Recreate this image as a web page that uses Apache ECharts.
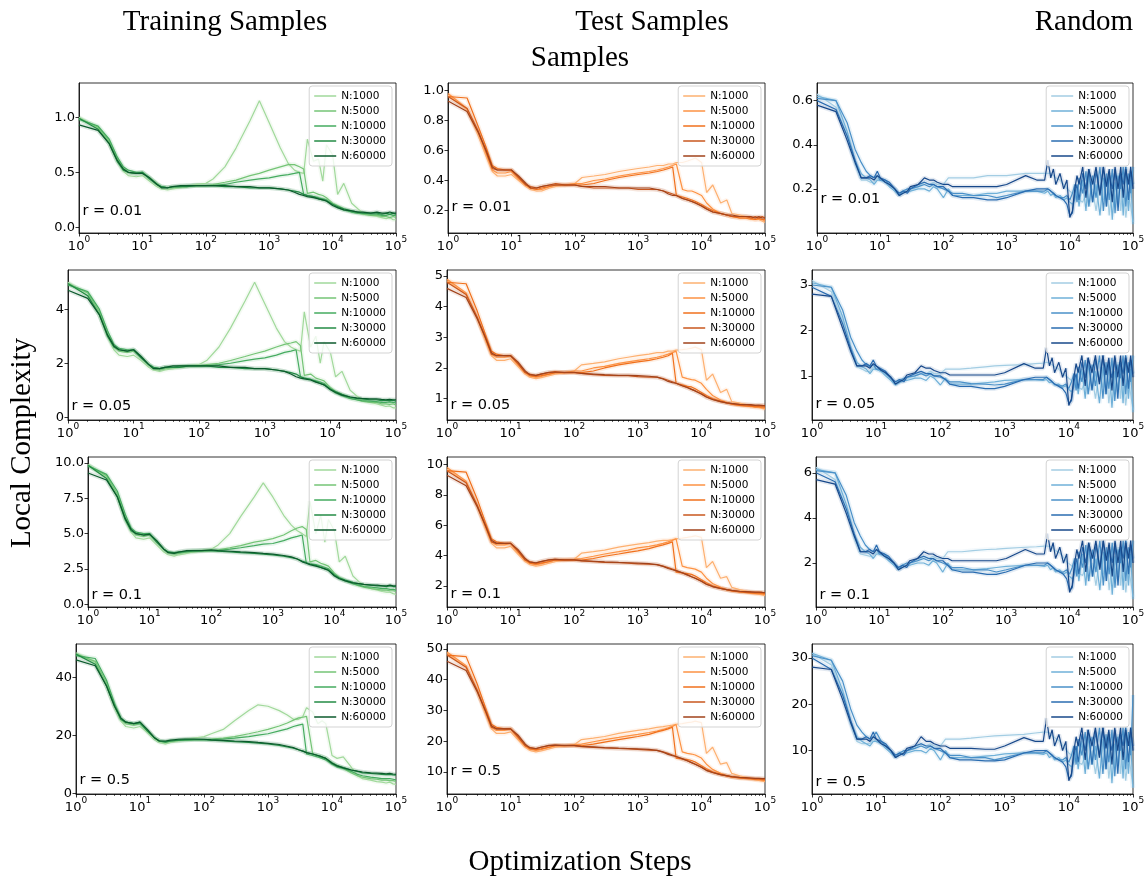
<!DOCTYPE html>
<html>
<head>
<meta charset="utf-8">
<script src="https://cdn.jsdelivr.net/npm/echarts@6/dist/echarts.min.js"></script>
<style>
  html, body { margin: 0; padding: 0; background: #fff; }
  #chart { width: 1148px; height: 882px; }
</style>
</head>
<body>
<div id="chart"></div>
<script>
// optimisation steps at which the train / test runs were logged
const steps = [1, 2, 3, 4, 5, 6, 8, 10, 13, 17, 20, 25, 30, 40, 50, 70, 100, 130, 200, 300, 500, 700,
  1000, 1500, 2000, 2500, 3000, 3500, 4000, 5000, 6000, 7000, 8000, 10000, 12000, 15000, 20000, 25000,
  30000, 40000, 50000, 60000, 70000, 80000, 90000, 100000];
// the random-sample runs are logged on a denser grid at the end
const stepsRandom = [1, 2, 3, 4, 5, 6, 7, 8, 9, 10, 12, 14, 17, 20, 23, 27, 30, 40, 50, 60, 70, 80, 100, 120,
  140, 200, 300, 500, 700, 1000, 2000, 3000, 4000, 4500, 5000, 5500, 6000, 7000, 8000, 9000, 10000, 11000,
  12000, 13000, 14000, 16000, 18000, 20000, 23000, 26000, 30000, 34000, 38000, 42000, 47000, 52000, 58000,
  64000, 70000, 77000, 85000, 92000, 100000];

const sizes = ['N:1000', 'N:5000', 'N:10000', 'N:30000', 'N:60000'];
const radii = ['r = 0.01', 'r = 0.05', 'r = 0.1', 'r = 0.5'];

const xTicks = [1, 10, 100, 1000, 10000, 100000];
const yTicksTrain = [[0, 0.5, 1.0], [0, 2, 4], [0, 2.5, 5, 7.5, 10], [0, 20, 40]];
const yTicksTest = [[0.2, 0.4, 0.6, 0.8, 1.0], [1, 2, 3, 4, 5], [2, 4, 6, 8, 10], [10, 20, 30, 40, 50]];
const yTicksRandom = [[0.2, 0.4, 0.6], [1, 2, 3], [2, 4, 6], [10, 20, 30]];

// ---- Training samples (N:1000 ... N:60000)
const train001 = [
  [1.00,0.90,0.77,0.60,0.51,0.47,0.46,0.47,0.42,0.37,0.35,0.34,0.35,0.36,0.37,0.39,0.40,0.44,0.55,0.72,0.97,1.15,0.95,0.72,0.58,0.52,0.50,0.49,0.80,0.60,0.62,0.42,0.75,0.66,0.30,0.40,0.22,0.17,0.13,0.11,0.10,0.09,0.08,0.09,0.07,0.07],
  [0.99,0.91,0.78,0.63,0.54,0.50,0.49,0.50,0.45,0.40,0.37,0.36,0.36,0.37,0.37,0.38,0.38,0.39,0.41,0.43,0.47,0.49,0.52,0.55,0.57,0.57,0.55,0.53,0.31,0.32,0.30,0.29,0.27,0.22,0.20,0.17,0.14,0.13,0.12,0.11,0.11,0.10,0.10,0.09,0.10,0.09],
  [0.98,0.92,0.80,0.64,0.55,0.52,0.50,0.50,0.45,0.39,0.37,0.36,0.37,0.37,0.38,0.38,0.38,0.38,0.39,0.41,0.43,0.44,0.45,0.47,0.48,0.49,0.50,0.30,0.29,0.28,0.27,0.26,0.25,0.21,0.18,0.16,0.14,0.13,0.13,0.12,0.12,0.11,0.11,0.12,0.11,0.11],
  [0.99,0.89,0.76,0.60,0.52,0.50,0.49,0.50,0.44,0.39,0.37,0.36,0.37,0.37,0.37,0.38,0.38,0.38,0.37,0.37,0.36,0.36,0.36,0.35,0.34,0.33,0.32,0.30,0.29,0.28,0.26,0.25,0.24,0.21,0.19,0.17,0.15,0.14,0.13,0.13,0.13,0.12,0.13,0.12,0.13,0.12],
  [0.93,0.88,0.76,0.61,0.53,0.50,0.49,0.49,0.45,0.39,0.36,0.36,0.37,0.38,0.38,0.38,0.38,0.38,0.38,0.37,0.37,0.36,0.36,0.35,0.34,0.32,0.30,0.29,0.28,0.27,0.26,0.25,0.24,0.20,0.18,0.16,0.15,0.14,0.14,0.13,0.14,0.13,0.13,0.14,0.13,0.13]
];
const train005 = [
  [5.0,4.5,3.8,3.0,2.5,2.3,2.25,2.3,2.1,1.85,1.75,1.7,1.75,1.8,1.85,1.9,1.95,2.1,2.6,3.3,4.3,5.0,4.2,3.3,2.8,2.6,2.5,2.45,3.9,2.6,3.0,2.0,2.8,2.4,1.5,1.7,1.0,0.8,0.65,0.55,0.5,0.45,0.4,0.42,0.35,0.35],
  [4.95,4.6,3.9,3.1,2.6,2.45,2.4,2.45,2.2,1.95,1.8,1.75,1.8,1.85,1.85,1.9,1.9,1.95,2.0,2.1,2.25,2.35,2.45,2.6,2.7,2.75,2.8,2.65,1.55,1.6,1.45,1.4,1.35,1.1,0.95,0.85,0.7,0.65,0.6,0.55,0.55,0.5,0.5,0.48,0.5,0.45],
  [4.9,4.65,4.0,3.2,2.7,2.55,2.5,2.5,2.25,1.95,1.85,1.8,1.85,1.85,1.9,1.9,1.9,1.9,1.95,2.0,2.1,2.15,2.2,2.3,2.4,2.45,2.5,1.5,1.45,1.4,1.35,1.3,1.25,1.05,0.9,0.8,0.7,0.65,0.62,0.6,0.58,0.55,0.55,0.57,0.55,0.53],
  [4.95,4.5,3.8,3.0,2.6,2.5,2.45,2.5,2.2,1.95,1.85,1.8,1.85,1.85,1.85,1.9,1.9,1.9,1.85,1.85,1.8,1.8,1.8,1.75,1.7,1.65,1.6,1.5,1.45,1.4,1.32,1.25,1.2,1.05,0.95,0.85,0.75,0.7,0.68,0.65,0.65,0.62,0.63,0.62,0.63,0.6],
  [4.7,4.4,3.8,3.05,2.65,2.5,2.45,2.5,2.25,1.95,1.8,1.8,1.85,1.9,1.9,1.9,1.9,1.9,1.9,1.85,1.85,1.8,1.8,1.75,1.7,1.6,1.5,1.45,1.42,1.38,1.3,1.25,1.2,1.02,0.92,0.82,0.75,0.72,0.7,0.68,0.68,0.66,0.65,0.66,0.65,0.65]
];
const train01 = [
  [9.9,9.0,7.6,6.0,5.1,4.7,4.6,4.7,4.2,3.7,3.5,3.4,3.5,3.6,3.7,3.8,3.9,4.2,5.0,6.2,7.6,8.6,7.6,6.3,5.6,5.2,5.0,4.8,7.3,5.0,6.3,4.4,6.0,5.2,3.0,3.4,2.0,1.6,1.3,1.1,1.0,0.9,0.85,0.85,0.75,0.7],
  [9.85,9.1,7.8,6.2,5.3,4.9,4.8,4.9,4.4,3.9,3.65,3.55,3.6,3.7,3.7,3.75,3.8,3.85,4.0,4.15,4.4,4.5,4.65,4.9,5.2,5.4,5.5,5.3,3.0,3.1,2.9,2.8,2.7,2.2,1.9,1.7,1.45,1.3,1.2,1.1,1.05,1.0,1.0,0.95,0.95,0.9],
  [9.8,9.2,8.0,6.4,5.4,5.1,5.0,5.0,4.5,3.9,3.7,3.6,3.65,3.7,3.75,3.8,3.8,3.8,3.9,4.0,4.15,4.25,4.3,4.5,4.7,4.8,4.9,2.9,2.85,2.8,2.7,2.6,2.5,2.1,1.85,1.65,1.45,1.35,1.25,1.2,1.15,1.1,1.1,1.05,1.05,1.0],
  [9.85,8.9,7.6,6.0,5.2,5.0,4.9,5.0,4.4,3.9,3.7,3.65,3.7,3.75,3.8,3.8,3.8,3.75,3.7,3.65,3.6,3.55,3.5,3.4,3.3,3.2,3.05,2.95,2.85,2.75,2.6,2.5,2.4,2.05,1.85,1.7,1.55,1.45,1.4,1.35,1.3,1.3,1.25,1.3,1.25,1.25],
  [9.3,8.8,7.6,6.1,5.3,5.0,4.9,4.95,4.5,3.9,3.65,3.6,3.7,3.8,3.8,3.8,3.85,3.8,3.75,3.7,3.65,3.6,3.55,3.45,3.35,3.2,3.0,2.9,2.8,2.7,2.6,2.5,2.4,2.0,1.8,1.65,1.5,1.45,1.4,1.35,1.35,1.3,1.3,1.35,1.3,1.3]
];
const train05 = [
  [48.5,45,37,29.5,25,23,22.5,23,21,18.5,17.5,17,17.5,18,18.5,19,19.5,20.5,22,25,28.5,30.5,30,28.5,27,25.5,25.5,26.5,29.5,28,24,25,24,13,12,12.5,9,6,5,4.5,4,3.8,3.5,3.8,3.2,3],
  [48,45.5,38,30.5,25.5,24,23.5,24,21.5,19,18,17.5,18,18.2,18.3,18.5,18.5,18.7,19,19.5,20.5,21.2,22,23.2,24.2,25.2,26,26.2,26.5,13.5,13,12.5,12,10.5,9.5,8.5,7,6,5.5,5,4.8,4.5,4.5,4.3,4.3,4],
  [47.5,46.5,39,31,26,24.5,24,24,21.5,19,18,17.5,18,18.2,18.3,18.5,18.5,18.5,18.7,19,19.5,20,20.5,21.5,22.2,23,23.5,23.8,13.5,13,12.5,12,11.5,10,9,8.5,7.5,6.5,6,5.5,5.3,5,5,5,4.8,4.6],
  [48,44.5,37,30,25.5,24.5,24,24.5,21.5,19,18,17.8,18,18.3,18.5,18.5,18.5,18.3,18,17.8,17.5,17.3,17,16.5,16,15.5,15,14.5,14,13.5,13,12.5,12,10.5,9.5,8.8,8,7.5,7,6.8,6.6,6.5,6.4,6.5,6.3,6.2],
  [46,44,37,30,26,24.5,24,24.5,22,19,18,18,18.3,18.6,18.7,18.7,18.6,18.4,18.2,18,17.8,17.5,17.2,16.8,16.2,15.7,15,14.5,14,13.5,13,12.5,12,10.3,9.4,8.7,8,7.6,7.3,7,6.9,6.8,6.7,6.8,6.6,6.5]
];

// ---- Test samples
const test001 = [
  [0.97,0.87,0.70,0.56,0.46,0.43,0.43,0.44,0.40,0.36,0.34,0.33,0.33,0.35,0.36,0.37,0.38,0.42,0.43,0.44,0.46,0.47,0.48,0.49,0.50,0.50,0.51,0.51,0.52,0.52,0.53,0.54,0.55,0.52,0.32,0.37,0.25,0.27,0.18,0.17,0.16,0.15,0.14,0.14,0.13,0.12],
  [0.98,0.88,0.72,0.58,0.47,0.45,0.45,0.46,0.41,0.37,0.35,0.34,0.34,0.36,0.37,0.37,0.38,0.38,0.40,0.41,0.43,0.44,0.45,0.46,0.47,0.48,0.49,0.50,0.51,0.34,0.33,0.33,0.32,0.30,0.25,0.21,0.18,0.17,0.16,0.15,0.15,0.14,0.14,0.14,0.14,0.13],
  [0.96,0.95,0.76,0.62,0.50,0.48,0.47,0.47,0.42,0.37,0.35,0.34,0.35,0.36,0.37,0.37,0.37,0.37,0.38,0.40,0.42,0.43,0.44,0.45,0.46,0.47,0.48,0.49,0.30,0.29,0.28,0.27,0.26,0.24,0.22,0.20,0.18,0.17,0.16,0.15,0.15,0.15,0.14,0.15,0.14,0.14],
  [0.96,0.88,0.73,0.59,0.48,0.47,0.47,0.47,0.42,0.37,0.36,0.35,0.36,0.37,0.38,0.37,0.37,0.36,0.35,0.35,0.35,0.35,0.34,0.34,0.34,0.33,0.32,0.31,0.30,0.28,0.27,0.26,0.25,0.23,0.21,0.19,0.18,0.17,0.16,0.16,0.16,0.15,0.16,0.15,0.16,0.15],
  [0.93,0.86,0.72,0.60,0.49,0.47,0.47,0.47,0.43,0.38,0.35,0.35,0.36,0.37,0.37,0.37,0.37,0.36,0.36,0.36,0.35,0.35,0.35,0.35,0.34,0.33,0.31,0.30,0.30,0.28,0.27,0.26,0.25,0.23,0.21,0.19,0.18,0.17,0.17,0.16,0.16,0.16,0.15,0.16,0.15,0.15]
];
const test005 = [
  [4.85,4.4,3.6,2.9,2.4,2.25,2.25,2.3,2.05,1.8,1.7,1.65,1.68,1.75,1.8,1.85,1.9,2.1,2.15,2.2,2.3,2.35,2.4,2.45,2.5,2.5,2.55,2.55,2.58,2.6,2.62,2.65,2.68,2.6,1.6,1.8,1.2,1.3,0.9,0.85,0.8,0.75,0.72,0.7,0.68,0.65],
  [4.9,4.45,3.65,2.95,2.45,2.35,2.35,2.4,2.1,1.85,1.75,1.7,1.72,1.8,1.85,1.85,1.9,1.9,2.0,2.05,2.15,2.2,2.25,2.3,2.35,2.4,2.45,2.5,2.55,1.7,1.65,1.62,1.6,1.5,1.3,1.1,0.95,0.88,0.82,0.78,0.76,0.74,0.72,0.72,0.7,0.68],
  [4.8,4.75,3.85,3.1,2.55,2.45,2.4,2.4,2.15,1.85,1.75,1.72,1.75,1.8,1.85,1.85,1.85,1.85,1.9,2.0,2.1,2.15,2.2,2.25,2.3,2.35,2.4,2.48,1.5,1.45,1.4,1.38,1.32,1.2,1.1,1.0,0.92,0.86,0.82,0.78,0.76,0.75,0.74,0.74,0.73,0.72],
  [4.8,4.4,3.65,3.0,2.45,2.4,2.4,2.4,2.15,1.85,1.8,1.75,1.8,1.85,1.88,1.85,1.85,1.82,1.78,1.76,1.75,1.75,1.72,1.7,1.7,1.65,1.6,1.55,1.5,1.42,1.36,1.3,1.25,1.15,1.05,0.97,0.9,0.86,0.83,0.8,0.8,0.78,0.78,0.77,0.78,0.76],
  [4.6,4.3,3.6,3.0,2.5,2.4,2.4,2.4,2.2,1.9,1.78,1.76,1.8,1.86,1.86,1.86,1.86,1.82,1.8,1.78,1.76,1.76,1.75,1.73,1.7,1.64,1.56,1.52,1.5,1.42,1.36,1.3,1.25,1.15,1.05,0.97,0.9,0.86,0.84,0.81,0.8,0.8,0.78,0.79,0.77,0.77]
];
const test01 = [
  [9.7,8.8,7.2,5.8,4.8,4.5,4.5,4.6,4.1,3.6,3.4,3.3,3.35,3.5,3.6,3.7,3.75,4.15,4.25,4.35,4.55,4.65,4.75,4.85,4.95,5.0,5.0,5.05,5.1,5.15,5.2,5.25,5.3,5.2,3.2,3.6,2.5,2.6,1.9,1.75,1.65,1.55,1.5,1.45,1.4,1.35],
  [9.8,8.9,7.3,5.9,4.9,4.7,4.7,4.8,4.2,3.7,3.5,3.4,3.45,3.6,3.7,3.7,3.75,3.8,3.95,4.1,4.25,4.35,4.5,4.6,4.7,4.8,4.9,5.0,5.1,3.3,3.2,3.15,3.1,2.9,2.5,2.15,1.9,1.75,1.65,1.6,1.55,1.5,1.48,1.47,1.45,1.42],
  [9.6,9.5,7.7,6.2,5.1,4.9,4.8,4.8,4.3,3.7,3.5,3.45,3.5,3.6,3.7,3.7,3.7,3.7,3.8,3.95,4.1,4.2,4.3,4.45,4.6,4.7,4.8,4.9,2.9,2.85,2.8,2.75,2.65,2.4,2.2,2.0,1.85,1.75,1.68,1.6,1.57,1.55,1.52,1.52,1.5,1.48],
  [9.6,8.8,7.3,6.0,4.9,4.8,4.8,4.8,4.3,3.7,3.6,3.5,3.6,3.7,3.75,3.7,3.7,3.65,3.6,3.55,3.52,3.5,3.45,3.42,3.4,3.3,3.2,3.1,3.0,2.85,2.72,2.6,2.5,2.3,2.1,1.95,1.82,1.74,1.68,1.62,1.6,1.58,1.57,1.56,1.56,1.54],
  [9.3,8.6,7.2,6.0,5.0,4.8,4.8,4.8,4.4,3.8,3.56,3.52,3.6,3.72,3.74,3.72,3.72,3.66,3.62,3.58,3.54,3.52,3.5,3.46,3.4,3.28,3.14,3.06,3.0,2.86,2.72,2.6,2.5,2.3,2.1,1.95,1.82,1.75,1.7,1.64,1.62,1.6,1.58,1.58,1.56,1.55]
];
const test05 = [
  [48.5,44,36,29,24,22.5,22.5,23,20.5,18,17,16.5,16.8,17.5,18,18.5,18.8,20.5,21,21.5,22.5,23,23.5,24,24.5,24.7,25,25.2,25.5,25.7,26,26.2,26.5,26,16,18,12.5,13,9.5,8.7,8.2,7.8,7.5,7.2,7,6.8],
  [49,44.5,36.5,29.5,24.5,23.5,23.5,24,21,18.5,17.5,17,17.2,18,18.5,18.5,18.8,19,19.8,20.5,21.2,21.7,22.2,22.8,23.3,23.8,24.3,24.8,25.4,16.5,16,15.8,15.5,14.5,12.5,10.8,9.5,8.8,8.3,8,7.8,7.6,7.5,7.4,7.3,7.1],
  [48,47.5,38.5,31,25.5,24.5,24,24,21.5,18.5,17.5,17.2,17.5,18,18.5,18.5,18.5,18.5,19,19.7,20.5,21,21.5,22.2,23,23.5,24,24.5,14.5,14.2,14,13.7,13.2,12,11,10,9.2,8.7,8.4,8,7.9,7.8,7.6,7.6,7.5,7.4],
  [48,44,36.5,30,24.5,24,24,24,21.5,18.5,18,17.5,18,18.5,18.7,18.5,18.5,18.2,18,17.8,17.6,17.5,17.3,17.1,17,16.5,16,15.5,15,14.2,13.6,13,12.5,11.5,10.5,9.8,9.1,8.7,8.4,8.1,8,7.9,7.8,7.8,7.8,7.7],
  [46,43,36,30,25,24,24,24,22,19,17.8,17.6,18,18.6,18.7,18.6,18.6,18.3,18.1,17.9,17.7,17.6,17.5,17.3,17,16.4,15.7,15.3,15,14.3,13.6,13,12.5,11.5,10.5,9.8,9.1,8.8,8.5,8.2,8.1,8,7.9,7.9,7.8,7.8]
];

// ---- Random samples
const random001 = [
  [0.63,0.57,0.44,0.31,0.24,0.24,0.23,0.23,0.25,0.24,0.23,0.22,0.2,0.18,0.19,0.19,0.2,0.21,0.23,0.22,0.23,0.22,0.22,0.25,0.25,0.25,0.25,0.26,0.26,0.26,0.27,0.27,0.27,0.27,0.27,0.26,0.25,0.24,0.22,0.2,0.19,0.18,0.17,0.16,0.15,0.14,0.18,0.12,0.2,0.1,0.22,0.15,0.25,0.08,0.2,0.13,0.27,0.1,0.22,0.07,0.18,0.12,0.05],
  [0.62,0.6,0.46,0.33,0.27,0.25,0.24,0.22,0.24,0.24,0.23,0.21,0.19,0.17,0.18,0.19,0.19,0.2,0.2,0.19,0.21,0.2,0.16,0.2,0.17,0.17,0.17,0.18,0.18,0.19,0.19,0.19,0.18,0.19,0.17,0.18,0.16,0.17,0.15,0.16,0.14,0.13,0.15,0.2,0.12,0.24,0.1,0.26,0.14,0.22,0.08,0.25,0.12,0.28,0.06,0.23,0.14,0.27,0.08,0.3,0.1,0.24,0.04],
  [0.61,0.6,0.5,0.38,0.32,0.28,0.26,0.25,0.26,0.24,0.24,0.22,0.2,0.17,0.19,0.2,0.2,0.21,0.22,0.21,0.22,0.21,0.2,0.19,0.18,0.18,0.17,0.17,0.16,0.17,0.19,0.19,0.19,0.2,0.19,0.18,0.17,0.16,0.16,0.17,0.15,0.18,0.22,0.14,0.25,0.18,0.28,0.12,0.26,0.16,0.3,0.1,0.27,0.15,0.29,0.09,0.26,0.2,0.3,0.12,0.27,0.18,0.3],
  [0.6,0.56,0.44,0.33,0.25,0.25,0.26,0.25,0.28,0.25,0.24,0.23,0.2,0.18,0.19,0.18,0.2,0.22,0.23,0.22,0.22,0.21,0.21,0.19,0.17,0.16,0.16,0.15,0.15,0.16,0.19,0.2,0.2,0.2,0.19,0.18,0.17,0.16,0.15,0.13,0.08,0.09,0.18,0.22,0.15,0.27,0.2,0.29,0.14,0.28,0.18,0.3,0.12,0.27,0.2,0.29,0.1,0.27,0.22,0.3,0.15,0.28,0.22],
  [0.58,0.55,0.42,0.32,0.25,0.25,0.25,0.24,0.26,0.25,0.23,0.22,0.2,0.17,0.18,0.19,0.21,0.22,0.25,0.24,0.24,0.23,0.22,0.22,0.21,0.21,0.21,0.21,0.21,0.22,0.26,0.24,0.24,0.33,0.25,0.29,0.22,0.27,0.2,0.24,0.07,0.1,0.2,0.26,0.22,0.3,0.16,0.29,0.22,0.3,0.17,0.3,0.21,0.29,0.14,0.3,0.2,0.3,0.16,0.29,0.22,0.3,0.2]
];
const random005 = [
  [3.1,2.85,2.2,1.55,1.2,1.15,1.1,1.1,1.2,1.15,1.1,1.05,0.95,0.85,0.9,0.9,0.95,1.0,1.05,1.05,1.1,1.05,1.05,1.15,1.15,1.15,1.17,1.2,1.22,1.23,1.25,1.27,1.28,1.3,1.28,1.25,1.2,1.15,1.05,1.0,0.95,0.9,0.85,0.8,0.75,0.7,0.9,0.6,1.0,0.5,1.1,0.75,1.2,0.4,1.0,0.65,1.3,0.5,1.1,0.35,0.9,0.6,0.25],
  [3.05,2.95,2.3,1.65,1.3,1.2,1.15,1.05,1.15,1.15,1.1,1.0,0.9,0.8,0.85,0.9,0.9,0.95,0.95,0.9,1.0,0.95,0.8,0.95,0.82,0.82,0.82,0.85,0.87,0.9,0.92,0.92,0.9,0.92,0.85,0.87,0.8,0.82,0.75,0.78,0.7,0.65,0.75,1.0,0.6,1.15,0.5,1.25,0.7,1.1,0.4,1.2,0.6,1.35,0.3,1.1,0.7,1.3,0.4,1.45,0.5,1.15,0.2],
  [3.0,2.95,2.45,1.85,1.55,1.35,1.25,1.2,1.25,1.15,1.15,1.05,0.95,0.82,0.9,0.95,0.97,1.0,1.05,1.0,1.05,1.0,0.97,0.92,0.87,0.87,0.83,0.82,0.8,0.82,0.92,0.92,0.92,0.97,0.92,0.87,0.82,0.78,0.78,0.82,0.72,0.87,1.05,0.68,1.2,0.87,1.35,0.6,1.25,0.78,1.45,0.5,1.3,0.72,1.4,0.45,1.25,0.95,1.45,0.6,1.3,0.87,1.45],
  [2.95,2.75,2.15,1.6,1.22,1.22,1.27,1.22,1.35,1.22,1.15,1.1,0.95,0.87,0.92,0.87,0.97,1.05,1.1,1.05,1.05,1.0,1.0,0.92,0.82,0.77,0.77,0.72,0.72,0.77,0.92,0.97,0.97,0.97,0.92,0.87,0.82,0.77,0.72,0.62,0.4,0.45,0.87,1.05,0.72,1.3,0.95,1.4,0.68,1.35,0.87,1.45,0.6,1.3,0.95,1.4,0.5,1.3,1.05,1.45,0.72,1.35,1.05],
  [2.8,2.75,2.05,1.55,1.22,1.22,1.22,1.17,1.27,1.22,1.12,1.07,0.97,0.82,0.87,0.92,1.02,1.07,1.22,1.17,1.17,1.12,1.07,1.07,1.02,1.02,1.02,1.02,1.02,1.07,1.27,1.17,1.17,1.62,1.22,1.4,1.07,1.3,0.97,1.17,0.35,0.5,0.97,1.27,1.07,1.45,0.78,1.4,1.07,1.45,0.82,1.45,1.02,1.4,0.68,1.45,0.97,1.45,0.78,1.4,1.07,1.45,0.97]
];
const random01 = [
  [6.25,5.7,4.4,3.1,2.4,2.35,2.3,2.3,2.5,2.4,2.3,2.2,2.0,1.8,1.9,1.9,2.0,2.1,2.3,2.2,2.3,2.2,2.2,2.5,2.5,2.5,2.55,2.6,2.62,2.65,2.7,2.72,2.75,2.75,2.72,2.65,2.55,2.45,2.25,2.05,1.95,1.85,1.75,1.65,1.55,1.45,1.8,1.2,2.0,1.0,2.2,1.5,2.5,0.8,2.0,1.3,2.7,1.0,2.2,0.7,1.8,1.2,0.5],
  [6.15,6.0,4.6,3.3,2.7,2.5,2.4,2.2,2.4,2.4,2.3,2.1,1.9,1.7,1.8,1.9,1.9,2.0,2.0,1.9,2.1,2.0,1.6,2.0,1.7,1.7,1.7,1.75,1.8,1.85,1.9,1.9,1.85,1.9,1.7,1.8,1.6,1.7,1.5,1.6,1.4,1.3,1.5,2.0,1.2,2.4,1.0,2.6,1.4,2.2,0.8,2.5,1.2,2.8,0.6,2.3,1.4,2.7,0.8,3.0,1.0,2.4,0.4],
  [6.1,6.0,5.0,3.8,3.2,2.8,2.6,2.5,2.6,2.4,2.4,2.2,2.0,1.7,1.9,2.0,2.0,2.1,2.2,2.1,2.2,2.1,2.0,1.9,1.8,1.8,1.7,1.7,1.6,1.7,1.9,1.9,1.9,2.0,1.9,1.8,1.7,1.6,1.6,1.7,1.5,1.8,2.2,1.4,2.5,1.8,2.8,1.2,2.6,1.6,3.0,1.0,2.7,1.5,2.9,0.9,2.6,2.0,3.0,1.2,2.7,1.8,3.0],
  [6.0,5.6,4.4,3.3,2.5,2.5,2.6,2.5,2.8,2.5,2.4,2.3,2.0,1.8,1.9,1.8,2.0,2.2,2.3,2.2,2.2,2.1,2.1,1.9,1.7,1.6,1.6,1.5,1.5,1.6,1.9,2.0,2.0,2.0,1.9,1.8,1.7,1.6,1.5,1.3,0.8,0.9,1.8,2.2,1.5,2.7,2.0,2.9,1.4,2.8,1.8,3.0,1.2,2.7,2.0,2.9,1.0,2.7,2.2,3.0,1.5,2.8,2.2],
  [5.7,5.5,4.2,3.2,2.5,2.5,2.5,2.4,2.6,2.5,2.3,2.2,2.0,1.7,1.8,1.9,2.1,2.2,2.5,2.4,2.4,2.3,2.2,2.2,2.1,2.1,2.1,2.1,2.1,2.2,2.6,2.4,2.4,3.3,2.5,2.9,2.2,2.7,2.0,2.4,0.7,1.0,2.0,2.6,2.2,3.0,1.6,2.9,2.2,3.0,1.7,3.0,2.1,2.9,1.4,3.0,2.0,3.0,1.6,2.9,2.2,3.0,2.0]
];
const random05 = [
  [31,28.5,22,15.5,12,11.5,11.5,11.5,12.5,12,11.5,11,10,9,9.5,9.5,10,10.5,11.5,11,11.5,11,11,12.5,12.5,12.5,12.7,13,13.2,13.3,13.5,13.8,14,14,13.8,13.2,12.8,12.2,11.2,10.2,9.5,9,8.5,8,7.5,7,9,6,10,5,11,7.5,12.5,4,10,6.5,13.5,5,11,3.5,9,6,2],
  [31,29.5,23,16.5,13,12,11.5,11,12,12,11.5,10.5,9.5,8.5,9,9.5,9.5,10,10,9.5,10.5,10,8,10,8.5,8.5,8.5,8.8,9,9.3,9.5,9.5,9.2,9.5,8.5,9,8,8.5,7.5,8,7,6.5,7.5,10,6,12,5,13,7,11,4,12.5,6,14,3,11.5,7,13.5,4,15,5,12,2],
  [30.5,29.5,25,19,15.5,14,13,12.5,13,14,12,11,10,8.5,9.5,10,10,10.5,11,10.5,11,10.5,10,9.5,9,9,8.5,8.5,8,8.5,9.5,9.5,9.5,10,9.5,9,8.5,8,8,8.5,7.5,9,11,7,12.5,9,14,6,13,8,15,5,13.5,7.5,14.5,4.5,13,10,15,6,14,9,22],
  [30,27.5,22,16.5,12.5,12.5,13,12.5,14,12.5,12,11.5,10,9,9.5,9,10,11,11.5,11,11,10.5,10.5,9.5,8.5,8,8,7.8,7.8,8,9.5,10,10,10,9.5,9,8.5,8,7.5,6.5,4,4.5,9,11,7.5,13.5,10,14.5,7,14,9,15,6,13.5,10,14.5,5,13.5,11,15,7.5,14,11],
  [28,27.5,21,16,12.5,12.5,12.5,12,13,12.5,11.5,11,10,8.5,9,9.5,10.5,11,13,12,12,11.5,11,11,10.5,10.5,10.5,10.3,10.3,11,12.8,12,12,17,12.5,14.5,11,13.5,10,12,3.5,5,10,13,11,15,8,14.5,11,15,8.5,15,10.5,14.5,7,15,10,15,8,14.5,11,15,10]
];

const columnData = [
  { steps: steps, rows: [train001, train005, train01, train05], ticks: yTicksTrain,
    colors: ['#a1d99b', '#74c476', '#45ab5f', '#238b45', '#0b5a2c'],
    range: [[-0.05, 1.31], [-0.1, 5.45], [-0.2, 10.43], [-0.3, 51.5]], dec: [1, 0, 1, 0] },
  { steps: steps, rows: [test001, test005, test01, test05], ticks: yTicksTest,
    colors: ['#fdb070', '#fd9243', '#f0701c', '#c9571e', '#a1421a'],
    range: [[0.05, 1.05], [0.3, 5.2], [0.6, 10.5], [2.8, 51.6]], dec: [1, 0, 0, 0] },
  { steps: stepsRandom, rows: [random001, random005, random01, random05], ticks: yTicksRandom,
    colors: ['#a3cde3', '#6fb0d8', '#4a90c8', '#2a6cb0', '#17488a'],
    range: [[0.0, 0.68], [0.03, 3.33], [0.05, 6.7], [0.65, 33]], dec: [1, 0, 0, 0] }
];

// panel placement (px)
const rowTop = [83, 270, 457, 644];
const rowHeight = 150;
const panelLeft = [[79, 448, 817], [68, 447, 812], [88, 447, 816], [76, 447, 812]];
const panelRight = [396, 765, 1133];
const rLabelY = [[213, 209, 201], [408, 407, 406], [597, 596, 597], [782, 773, 784]];

const minorTicks = [];
for (let e = 0; e < 5; e++) {
  for (let m = 2; m <= 9; m++) minorTicks.push(m * Math.pow(10, e));
}

const chart = echarts.init(document.getElementById('chart'));
const grids = [], xAxes = [], yAxes = [], series = [], legends = [], graphics = [];
const tickFont = 'DejaVu Sans';

columnData.forEach((col, c) => {
  const names = sizes.map((s) => s + '\u200b'.repeat(c));
  col.rows.forEach((rowSeries, r) => {
    const i = grids.length;
    const left = panelLeft[r][c];
    const width = panelRight[c] - left;
    grids.push({ left: left, top: rowTop[r], width: width, height: rowHeight,
      show: true, borderColor: '#000', borderWidth: 0.8, backgroundColor: 'transparent' });

    xAxes.push({
      gridIndex: i, type: 'log', logBase: 10, min: 1, max: 100000, position: 'bottom',
      axisLine: { onZero: false, lineStyle: { color: '#000', width: 0.8 } },
      axisTick: { customValues: xTicks, length: 3.5, lineStyle: { color: '#000', width: 0.8 } },
      axisLabel: {
        customValues: xTicks, margin: 2, color: '#000',
        formatter: (v) => '{b|10}{s|' + Math.round(Math.log10(v)) + '}',
        rich: {
          b: { fontSize: 13, fontFamily: tickFont, color: '#000', lineHeight: 18, verticalAlign: 'bottom' },
          s: { fontSize: 9, fontFamily: tickFont, color: '#000', lineHeight: 10, verticalAlign: 'top' }
        }
      },
      splitLine: { show: false }
    });
    xAxes.push({
      gridIndex: i, type: 'log', logBase: 10, min: 1, max: 100000, position: 'bottom',
      axisLine: { show: false, onZero: false },
      axisTick: { customValues: minorTicks, length: 2, lineStyle: { color: '#000', width: 0.6 } },
      axisLabel: { show: false }, splitLine: { show: false }
    });

    const ticks = col.ticks[r];
    const dec = col.dec[r];
    yAxes.push({
      gridIndex: i, type: 'value', min: col.range[r][0], max: col.range[r][1],
      axisLine: { show: true, onZero: false, lineStyle: { color: '#000', width: 0.8 } },
      axisTick: { show: true, customValues: ticks, length: 3.5, lineStyle: { color: '#000', width: 0.8 } },
      axisLabel: { customValues: ticks, margin: 4, color: '#000', fontSize: 13, fontFamily: tickFont,
        formatter: (v) => Number(v).toFixed(dec) },
      splitLine: { show: false }
    });

    rowSeries.forEach((vals, k) => {
      if (vals.length !== col.steps.length) {
        throw new Error('length mismatch col ' + c + ' row ' + r + ' series ' + k + ': ' + vals.length);
      }
      const pts = col.steps.map((x, j) => [x, vals[j]]);
      // soft band behind each run
      series.push({ type: 'line', name: 'band' + i + '_' + k, xAxisIndex: 2 * i, yAxisIndex: i,
        data: pts, symbol: 'none', silent: true, z: 1, animation: false,
        lineStyle: { width: 4.5, color: col.colors[k], opacity: 0.12 } });
      series.push({ type: 'line', name: names[k], xAxisIndex: 2 * i, yAxisIndex: i,
        data: pts, symbol: 'none', z: 2, animation: false,
        lineStyle: { width: 1.2, color: col.colors[k] }, itemStyle: { color: col.colors[k] } });
    });

    legends.push({
      data: names, orient: 'vertical', right: 1148 - panelRight[c] + 4, top: rowTop[r] + 3,
      icon: 'rect', itemWidth: 22, itemHeight: 1.5, itemGap: 3, padding: [4, 6, 4, 5],
      borderColor: '#d3d3d3', borderWidth: 1, borderRadius: 3,
      backgroundColor: 'rgba(255,255,255,0.8)', selectedMode: false,
      textStyle: { fontSize: 10.5, fontFamily: tickFont, color: '#000', lineHeight: 12 }
    });

    graphics.push({ type: 'text', left: left + 3.5, top: rLabelY[r][c] - 9, silent: true,
      style: { text: radii[r], fontSize: 14.5, fontFamily: tickFont, fill: '#000' } });
  });
});

const serif = 'Liberation Serif, Times New Roman, serif';
graphics.push(
  { type: 'text', x: 225, y: 22, style: { text: 'Training Samples', font: '29px ' + serif, fill: '#000', align: 'center', verticalAlign: 'middle' } },
  { type: 'text', x: 652, y: 22, style: { text: 'Test Samples', font: '29px ' + serif, fill: '#000', align: 'center', verticalAlign: 'middle' } },
  { type: 'text', x: 580, y: 58, style: { text: 'Samples', font: '29px ' + serif, fill: '#000', align: 'center', verticalAlign: 'middle' } },
  { type: 'text', x: 1133, y: 22, style: { text: 'Random', font: '29px ' + serif, fill: '#000', align: 'right', verticalAlign: 'middle' } },
  { type: 'text', x: 580, y: 862, style: { text: 'Optimization Steps', font: '29px ' + serif, fill: '#000', align: 'center', verticalAlign: 'middle' } },
  { type: 'text', x: 22, y: 443, rotation: Math.PI / 2, style: { text: 'Local Complexity', font: '29px ' + serif, fill: '#000', align: 'center', verticalAlign: 'middle' } }
);

chart.setOption({
  animation: false,
  backgroundColor: '#fff',
  grid: grids,
  xAxis: xAxes,
  yAxis: yAxes,
  legend: legends,
  series: series,
  graphic: graphics
});
</script>
</body>
</html>
